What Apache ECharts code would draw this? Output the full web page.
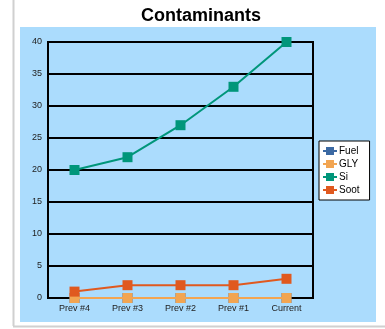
<!DOCTYPE html>
<html>
<head>
<meta charset="utf-8">
<script src="https://cdn.jsdelivr.net/npm/echarts@6/dist/echarts.min.js"></script>
<style>
  html, body { margin: 0; padding: 0; background: #ffffff; }
  #chart { width: 385px; height: 329px; }
</style>
</head>
<body>
<div id="chart"></div>
<script>
// Sample periods along the x axis
const categories = ['Prev #4', 'Prev #3', 'Prev #2', 'Prev #1', 'Current'];

// Contaminant readings per period
const fuel = [0, 0, 0, 0, 0];
const gly = [0, 0, 0, 0, 0];
const si = [20, 22, 27, 33, 40];
const soot = [1, 2, 2, 2, 3];

const seriesNames = ['Fuel', 'GLY', 'Si', 'Soot'];
const seriesData = [fuel, gly, si, soot];
const seriesColors = ['#3b69a3', '#f2a552', '#00967a', '#e0591f'];

const chart = echarts.init(document.getElementById('chart'), null, { renderer: 'canvas' });

const font = 'Liberation Sans, Arial, sans-serif';

chart.setOption({
  animation: false,
  backgroundColor: '#ffffff',
  title: {
    text: 'Contaminants',
    left: 196,
    textAlign: 'center',
    top: 2,
    textStyle: { fontFamily: font, fontSize: 18, fontWeight: 'bold', color: '#000' }
  },
  graphic: [
    { type: 'rect', z: -10, shape: { x: 20, y: 27, width: 356, height: 295 }, style: { fill: '#abdcfd' } },
    { type: 'line', z: -5, shape: { x1: 13.5, y1: 0, x2: 13.5, y2: 326 }, style: { stroke: '#d0d0d0', lineWidth: 2 } },
    { type: 'line', z: -5, shape: { x1: 13, y1: 326.5, x2: 385, y2: 326.5 }, style: { stroke: '#d0d0d0', lineWidth: 2 } }
  ],
  grid: { left: 48, right: 72, top: 42, bottom: 31, show: true, borderColor: '#000', borderWidth: 2, backgroundColor: 'transparent' },
  legend: {
    orient: 'vertical',
    left: 319,
    top: 141,
    data: seriesNames,
    backgroundColor: '#ffffff',
    borderColor: '#000',
    borderWidth: 1,
    borderRadius: 0,
    padding: [5, 10, 5, 3],
    itemGap: 3,
    itemWidth: 14,
    itemHeight: 10,
    textStyle: { fontFamily: font, fontSize: 10, color: '#000', padding: [0, 0, 0, -3] }
  },
  xAxis: {
    type: 'category',
    data: categories,
    boundaryGap: true,
    axisLine: { show: true, lineStyle: { color: '#000', width: 2 } },
    axisTick: { show: false },
    axisLabel: { fontFamily: font, fontSize: 9, color: '#222', margin: 6 }
  },
  yAxis: {
    type: 'value',
    min: 0,
    max: 40,
    interval: 5,
    axisLine: { show: true, lineStyle: { color: '#000', width: 2 } },
    axisTick: { show: false },
    splitLine: { show: true, lineStyle: { color: '#000', width: 2 } },
    axisLabel: { fontFamily: font, fontSize: 9, color: '#222', margin: 6 }
  },
  series: seriesNames.map((name, i) => ({
    name: name,
    type: 'line',
    data: seriesData[i],
    symbol: 'rect',
    symbolSize: 10,
    color: seriesColors[i],
    lineStyle: { width: 2, color: seriesColors[i] },
    itemStyle: { color: seriesColors[i] },
    z: 3 + i
  }))
});
</script>
</body>
</html>
